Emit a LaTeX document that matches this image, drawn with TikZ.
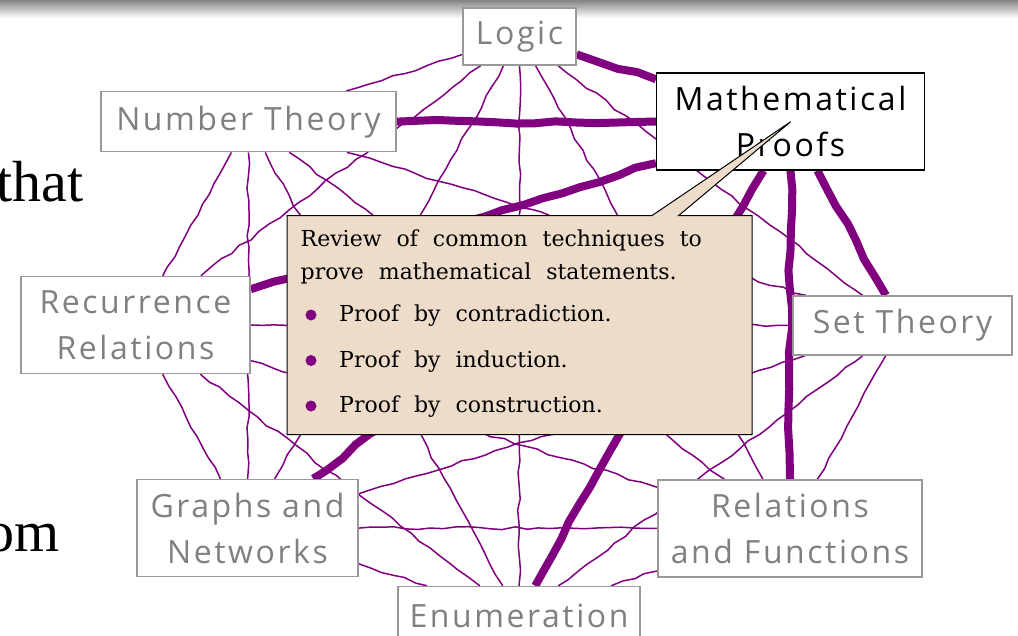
\documentclass[tikz,border=0pt]{standalone}
\usepackage{fontspec}
\setmainfont{Liberation Serif}
\newfontfamily\labelfont[LetterSpace=8]{Open Sans}
\newfontfamily\boxfont{DejaVu Serif}
\usetikzlibrary{decorations.pathmorphing,shapes.callouts}
\definecolor{edgepurple}{HTML}{800080}
\definecolor{calloutbg}{HTML}{EEDCCA}
\definecolor{labelgray}{HTML}{808080}
\definecolor{bordergray}{HTML}{999999}
\newcommand\widespaces{\spaceskip=15pt\relax}
\pgfdeclarelayer{bg}
\pgfsetlayers{bg,main}
\begin{document}
\begin{tikzpicture}[x=1pt,y=-1pt,
  topic/.style={draw=bordergray, line width=1.4pt, fill=white, text=labelgray,
    font=\labelfont\fontsize{32}{46}\selectfont, align=center, inner sep=0pt},
  maintopic/.style={topic, draw=black, text=black, line width=1.2pt},
  thinedge/.style={draw=edgepurple, line width=1.5pt, line join=round, decorate,
    decoration={random steps, segment length=12pt, amplitude=1.5pt}},
  thickedge/.style={draw=edgepurple, line width=8pt, line join=round, decorate,
    decoration={random steps, segment length=20pt, amplitude=2pt}},
  boxtext/.style={anchor=base west, inner sep=0pt, font=\boxfont\fontsize{22}{26}\selectfont},
  bulletdot/.style={circle, fill=edgepurple, inner sep=0pt, minimum size=11pt},
  slidetext/.style={anchor=base east, inner sep=0pt, font=\fontsize{58}{58}\selectfont}
]
\useasboundingbox (0,0) rectangle (1018,635);

\node[slidetext] (that) at (84,201.7) {that};
\node[slidetext] (om) at (60,551) {om};

\node[topic, minimum width=113pt, minimum height=57pt] (logic) at (519.5,36.5) {Logic};
\node[maintopic, minimum width=268pt, minimum height=97pt] (mp) at (790.5,121.5) {Mathematical\\Proofs};
\node[topic, minimum width=219pt, minimum height=59pt] (set) at (902.5,325.5) {Set Theory};
\node[topic, minimum width=264pt, minimum height=97pt] (rel) at (790,528.5) {Relations\\and Functions};
\node[topic, minimum width=242pt, minimum height=58pt] (enum) at (519,615.5) {Enumeration};
\node[topic, minimum width=221pt, minimum height=97pt] (graphs) at (247.5,528) {Graphs and\\Networks};
\node[topic, minimum width=229pt, minimum height=97pt] (rec) at (135.5,325) {Recurrence\\Relations};
\node[topic, minimum width=295pt, minimum height=60pt] (nt) at (248.5,121.7) {Number Theory};

\begin{pgfonlayer}{bg}
\fill[white] (0,0) rectangle (1018,635);
\shade[top color=black!48, bottom color=white] (0,0) rectangle (1018,18);
\pgfmathsetseed{7}
\foreach \a/\b in {logic/nt, logic/rec, logic/graphs, logic/enum, logic/rel, logic/set,
  nt/rec, nt/graphs, nt/enum, nt/rel, nt/set,
  rec/graphs, rec/enum, rec/rel, rec/set,
  graphs/enum, graphs/rel, graphs/set,
  enum/rel, enum/set, rel/set}
  \draw[thinedge] (\a) -- (\b);
\foreach \b in {logic, nt, rec, graphs, enum, rel, set}
  \draw[thickedge] (mp) -- (\b);
\end{pgfonlayer}

\coordinate (tip) at (790.7,121.7);
\node[rectangle callout, draw=black, line width=1pt, fill=calloutbg,
  minimum width=465pt, minimum height=219pt, inner sep=0pt,
  callout absolute pointer={(tip)}, callout pointer width=26.6pt] (callout) at (519.5,325) {};

\node[boxtext] (l1) at (300.5,246.7) {\widespaces Review of common techniques to};
\node[boxtext] (l2) at (300.5,279) {\widespaces prove mathematical statements.};
\node[bulletdot] (d1) at (311,315) {};
\node[bulletdot] (d2) at (311,360.5) {};
\node[bulletdot] (d3) at (311,406) {};
\node[boxtext] (i1) at (339,321.7) {\widespaces Proof by contradiction.};
\node[boxtext] (i2) at (339,367) {\widespaces Proof by induction.};
\node[boxtext] (i3) at (339,412.5) {\widespaces Proof by construction.};
\end{tikzpicture}
\end{document}
